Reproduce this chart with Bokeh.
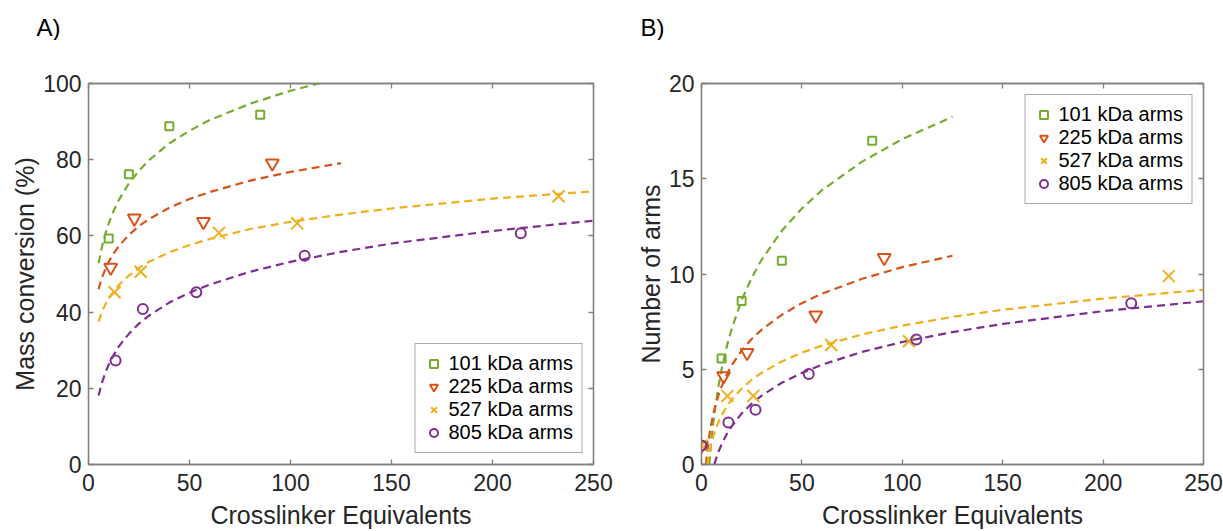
from bokeh.plotting import figure
from bokeh.layouts import row, column
from bokeh.models import (Legend, LegendItem, LinearAxis, FixedTicker, Range1d,
                          CustomJSTickFormatter, Label)
from bokeh.embed import file_html
from bokeh.resources import INLINE

# ---------------- data ----------------
series_names = ["101 kDa arms", "225 kDa arms", "527 kDa arms", "805 kDa arms"]
colors = ["#77AC30", "#D95319", "#EDB120", "#7E2F8E"]
markers = ["square", "inverted_triangle", "x", "circle"]
marker_sizes = [8, 13, 17, 10]

x_ticks = [0, 50, 100, 150, 200, 250]
a_y_ticks = [0, 20, 40, 60, 80, 100]
b_y_ticks = [0, 5, 10, 15, 20]

# Panel A: mass conversion (%)
a_x_101 = [10, 20, 40, 85]
a_y_101 = [59.3, 76.2, 88.8, 91.8]
a_x_225 = [11, 22.7, 56.9, 91]
a_y_225 = [51.7, 64.6, 63.7, 79.1]
a_x_527 = [12.9, 25.8, 64.6, 103.3, 232.7]
a_y_527 = [45.2, 50.6, 60.8, 63.3, 70.4]
a_x_805 = [13.4, 26.9, 53.4, 107, 214]
a_y_805 = [27.3, 40.8, 45.2, 54.8, 60.7]

# Panel A fitted (dashed) curves
a_fx_101 = [5, 6, 7, 8.5, 10, 12.5, 15, 20, 25, 30, 40, 50, 60, 80, 100, 125]
a_fy_101 = [52.8, 55.5, 57.9, 60.8, 63.3, 66.6, 69.4, 73.8, 77.1, 79.9, 84.3, 87.6, 90.4, 94.7, 98.1, 101.5]
a_fx_225 = [5, 6, 7, 8.5, 10, 12.5, 15, 20, 25, 30, 40, 50, 60, 80, 100, 125]
a_fy_225 = [46.0, 47.9, 49.5, 51.5, 53.2, 55.4, 57.3, 60.3, 62.6, 64.4, 67.4, 69.7, 71.5, 74.5, 76.8, 79.1]
a_fx_527 = [5, 6, 7, 8.5, 10, 12.5, 15, 20, 25, 30, 40, 50, 60, 80, 100, 125, 150, 200, 250]
a_fy_527 = [37.5, 39.1, 40.5, 42.2, 43.6, 45.5, 47.1, 49.6, 51.6, 53.2, 55.7, 57.6, 59.2, 61.8, 63.7, 65.6, 67.2, 69.8, 71.7]
a_fx_805 = [5, 6, 7, 8.5, 10, 12.5, 15, 20, 25, 30, 40, 50, 60, 80, 100, 125, 150, 200, 250]
a_fy_805 = [18.1, 20.2, 22.0, 24.3, 26.2, 28.8, 31.0, 34.3, 37.0, 39.1, 42.5, 45.1, 47.2, 50.6, 53.2, 55.8, 58.0, 61.3, 64.0]

# Panel B: number of arms
b_x_101 = [10, 20, 40, 85]
b_y_101 = [5.57, 8.58, 10.7, 17.0]
b_x_225 = [0, 11, 22.7, 56.9, 91]
b_y_225 = [1.0, 4.65, 5.86, 7.83, 10.85]
b_x_527 = [0, 12.9, 25.8, 64.6, 103.3, 232.7]
b_y_527 = [1.0, 3.6, 3.6, 6.27, 6.47, 9.89]
b_x_805 = [0, 13.4, 26.9, 53.4, 107, 214]
b_y_805 = [1.0, 2.21, 2.87, 4.75, 6.56, 8.47]

# Panel B fitted (dashed) curves
b_fx_101 = [3.9, 4.5, 5, 6, 7, 8.5, 10, 12.5, 15, 20, 25, 30, 40, 50, 60, 80, 100, 125]
b_fy_101 = [0.0, 0.8, 1.35, 2.31, 3.12, 4.14, 4.99, 6.16, 7.12, 8.63, 9.80, 10.76, 12.27, 13.44, 14.4, 15.9, 17.08, 18.25]
b_fx_225 = [2.2, 3, 4, 5, 6, 7, 8.5, 10, 12.5, 15, 20, 25, 30, 40, 50, 60, 80, 100, 125]
b_fy_225 = [0.0, 0.82, 1.60, 2.21, 2.70, 3.12, 3.65, 4.09, 4.70, 5.20, 5.98, 6.59, 7.08, 7.86, 8.47, 8.97, 9.75, 10.36, 10.96]
b_fx_527 = [2.85, 3.5, 4, 5, 6, 7, 8.5, 10, 12.5, 15, 20, 25, 30, 40, 50, 60, 80, 100, 125, 150, 200, 250]
b_fy_527 = [0.0, 0.42, 0.69, 1.15, 1.52, 1.84, 2.24, 2.57, 3.03, 3.40, 3.99, 4.45, 4.82, 5.41, 5.87, 6.24, 6.83, 7.29, 7.75, 8.12, 8.71, 9.17]
b_fx_805 = [6.4, 7, 8, 8.5, 10, 12.5, 15, 20, 25, 30, 40, 50, 60, 80, 100, 125, 150, 200, 250]
b_fy_805 = [0.01, 0.22, 0.53, 0.68, 1.06, 1.58, 2.00, 2.68, 3.20, 3.62, 4.29, 4.81, 5.24, 5.91, 6.43, 6.95, 7.38, 8.05, 8.57]

FONT = "Liberation Sans"
TEXT = "#262626"
AXC = "#808080"
HEAD_H = 40


def style_axis(ax, ticks, size="23px", label_size="25px"):
    ax.ticker = FixedTicker(ticks=ticks)
    ax.major_tick_in = 5
    ax.major_tick_out = 0
    ax.minor_tick_line_color = None
    ax.axis_line_color = AXC
    ax.axis_line_width = 1.3
    ax.major_tick_line_color = AXC
    ax.major_tick_line_width = 1.3
    ax.major_label_text_font = FONT
    ax.major_label_text_font_size = size
    ax.major_label_text_color = TEXT
    ax.axis_label_text_font = FONT
    ax.axis_label_text_font_size = label_size
    ax.axis_label_text_font_style = "normal"
    ax.axis_label_text_color = TEXT


def make_header(text, width, text_x):
    h = figure(width=width, height=HEAD_H, x_range=Range1d(0, width), y_range=Range1d(0, HEAD_H),
               output_backend="svg", toolbar_location=None, title=None,
               x_axis_location=None, y_axis_location=None,
               min_border=0, min_border_left=0, min_border_right=0,
               min_border_top=0, min_border_bottom=0)
    h.grid.visible = False
    h.outline_line_color = None
    h.border_fill_color = "white"
    h.background_fill_color = "white"
    h.add_layout(Label(x=text_x, y=HEAD_H - 27, text=text, text_font=FONT,
                       text_font_size="24px", text_color="#000000",
                       text_baseline="middle", text_align="left"))
    return h


def make_panel(width, left, right, ymax, yticks, ylabel, pts, fits, legend_loc):
    p = figure(width=width, height=531 - HEAD_H, x_range=Range1d(0, 250), y_range=Range1d(0, ymax),
               output_backend="svg", toolbar_location=None,
               min_border_left=left, min_border_right=right,
               min_border_top=83 - HEAD_H, min_border_bottom=66)
    p.grid.visible = False
    p.outline_line_color = AXC
    p.outline_line_width = 1.3
    p.background_fill_color = "white"
    p.border_fill_color = "white"

    style_axis(p.xaxis[0], x_ticks)
    style_axis(p.yaxis[0], yticks)
    p.xaxis[0].axis_label = "Crosslinker Equivalents"
    p.yaxis[0].axis_label = ylabel
    p.xaxis[0].major_label_standoff = 9
    p.yaxis[0].major_label_standoff = 7
    p.xaxis[0].axis_label_standoff = 7
    p.xaxis[0].axis_label_text_line_height = 1.0
    p.yaxis[0].axis_label_standoff = 1

    for loc, tks in (("above", x_ticks), ("right", yticks)):
        ax = LinearAxis(formatter=CustomJSTickFormatter(code="return ''"))
        style_axis(ax, tks)
        ax.major_label_text_font_size = "0px"
        ax.major_label_standoff = 0
        p.add_layout(ax, loc)

    items = []
    for i in range(4):
        fx, fy = fits[i]
        p.line(fx, fy, line_color=colors[i], line_width=2.2, line_dash="8 5")
    for i in range(4):
        xs, ys = pts[i]
        r = p.scatter(xs, ys, marker=markers[i], size=marker_sizes[i],
                      line_color=colors[i], line_width=2, fill_color=None)
        items.append(LegendItem(label=series_names[i], renderers=[r]))

    leg = Legend(items=items, location=legend_loc)
    leg.label_text_font = FONT
    leg.label_text_font_size = "20px"
    leg.label_text_color = "#000000"
    leg.border_line_color = "#555555"
    leg.border_line_width = 1
    leg.background_fill_color = "white"
    leg.background_fill_alpha = 1
    leg.padding = 8
    leg.margin = 11
    leg.spacing = 0
    leg.glyph_width = 20
    leg.glyph_height = 23
    leg.label_height = 23
    leg.label_standoff = 5
    p.add_layout(leg)
    return p


pA = make_panel(620, 88, 27, 100, a_y_ticks, "Mass conversion (%)",
                [(a_x_101, a_y_101), (a_x_225, a_y_225), (a_x_527, a_y_527), (a_x_805, a_y_805)],
                [(a_fx_101, a_fy_101), (a_fx_225, a_fy_225), (a_fx_527, a_fy_527), (a_fx_805, a_fy_805)],
                "bottom_right")
pB = make_panel(603, 81, 20, 20, b_y_ticks, "Number of arms",
                [(b_x_101, b_y_101), (b_x_225, b_y_225), (b_x_527, b_y_527), (b_x_805, b_y_805)],
                [(b_fx_101, b_fy_101), (b_fx_225, b_fy_225), (b_fx_527, b_fy_527), (b_fx_805, b_fy_805)],
                "top_right")

hA = make_header("A)", 620, 36)
hB = make_header("B)", 603, 20)

layout = column(row(hA, hB), row(pA, pB))
open("out.html", "w").write(file_html(layout, INLINE))
